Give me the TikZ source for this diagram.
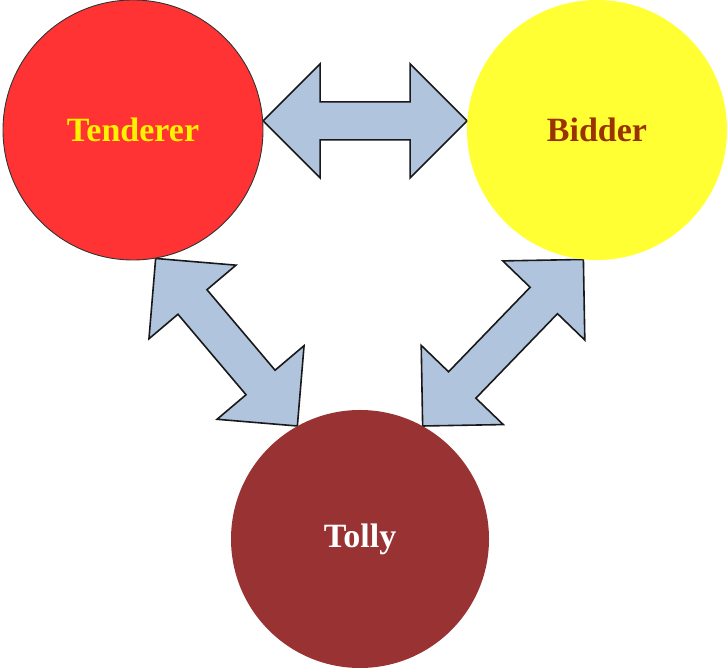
\documentclass[tikz,border=0pt]{standalone}
\usepackage{fontspec}
\setmainfont{Liberation Serif}
\usetikzlibrary{calc,backgrounds}

\definecolor{tenred}{RGB}{255,51,51}
\definecolor{bidyellow}{RGB}{255,255,51}
\definecolor{tolred}{RGB}{153,51,51}
\definecolor{bidtext}{RGB}{153,51,0}
\definecolor{arrowblue}{RGB}{176,196,222}

% block double arrow between two named points
\newcommand{\dblarrow}[2]{%
  \coordinate (ha) at ($(#1)!57pt!(#2)$);
  \coordinate (hb) at ($(#2)!57pt!(#1)$);
  \draw[blockarrow] (#1)
    -- ($(ha)!57pt!90:(#1)$) -- ($(ha)!19pt!90:(#1)$)
    -- ($(hb)!19pt!-90:(#2)$) -- ($(hb)!57pt!-90:(#2)$)
    -- (#2)
    -- ($(hb)!57pt!90:(#2)$) -- ($(hb)!19pt!90:(#2)$)
    -- ($(ha)!19pt!-90:(#1)$) -- ($(ha)!57pt!-90:(#1)$)
    -- cycle;
}

\begin{document}
\begin{tikzpicture}[x=1pt,y=1pt]
\tikzstyle{party}=[circle,inner sep=0pt,font=\fontsize{34}{40}\selectfont\bfseries]
\tikzstyle{blockarrow}=[fill=arrowblue,draw=black!90,line width=1.6pt,line join=miter]
\useasboundingbox (0,0) rectangle (728,671);

\node[party,fill=tenred,draw=black!80,line width=0.9pt,minimum size=260pt,text=yellow] (ten) at (133,541) {Tenderer};
\node[party,fill=bidyellow,minimum size=260pt,text=bidtext] (bid) at (597,541) {Bidder};
\node[party,fill=tolred,minimum size=258pt,text=white] (tol) at (360,132) {Tolly};

\begin{scope}[on background layer]
\dblarrow{ten.4}{bid.176}
\dblarrow{ten.-80}{tol.119}
\dblarrow{bid.-96}{tol.61}
\end{scope}
\end{tikzpicture}
\end{document}
